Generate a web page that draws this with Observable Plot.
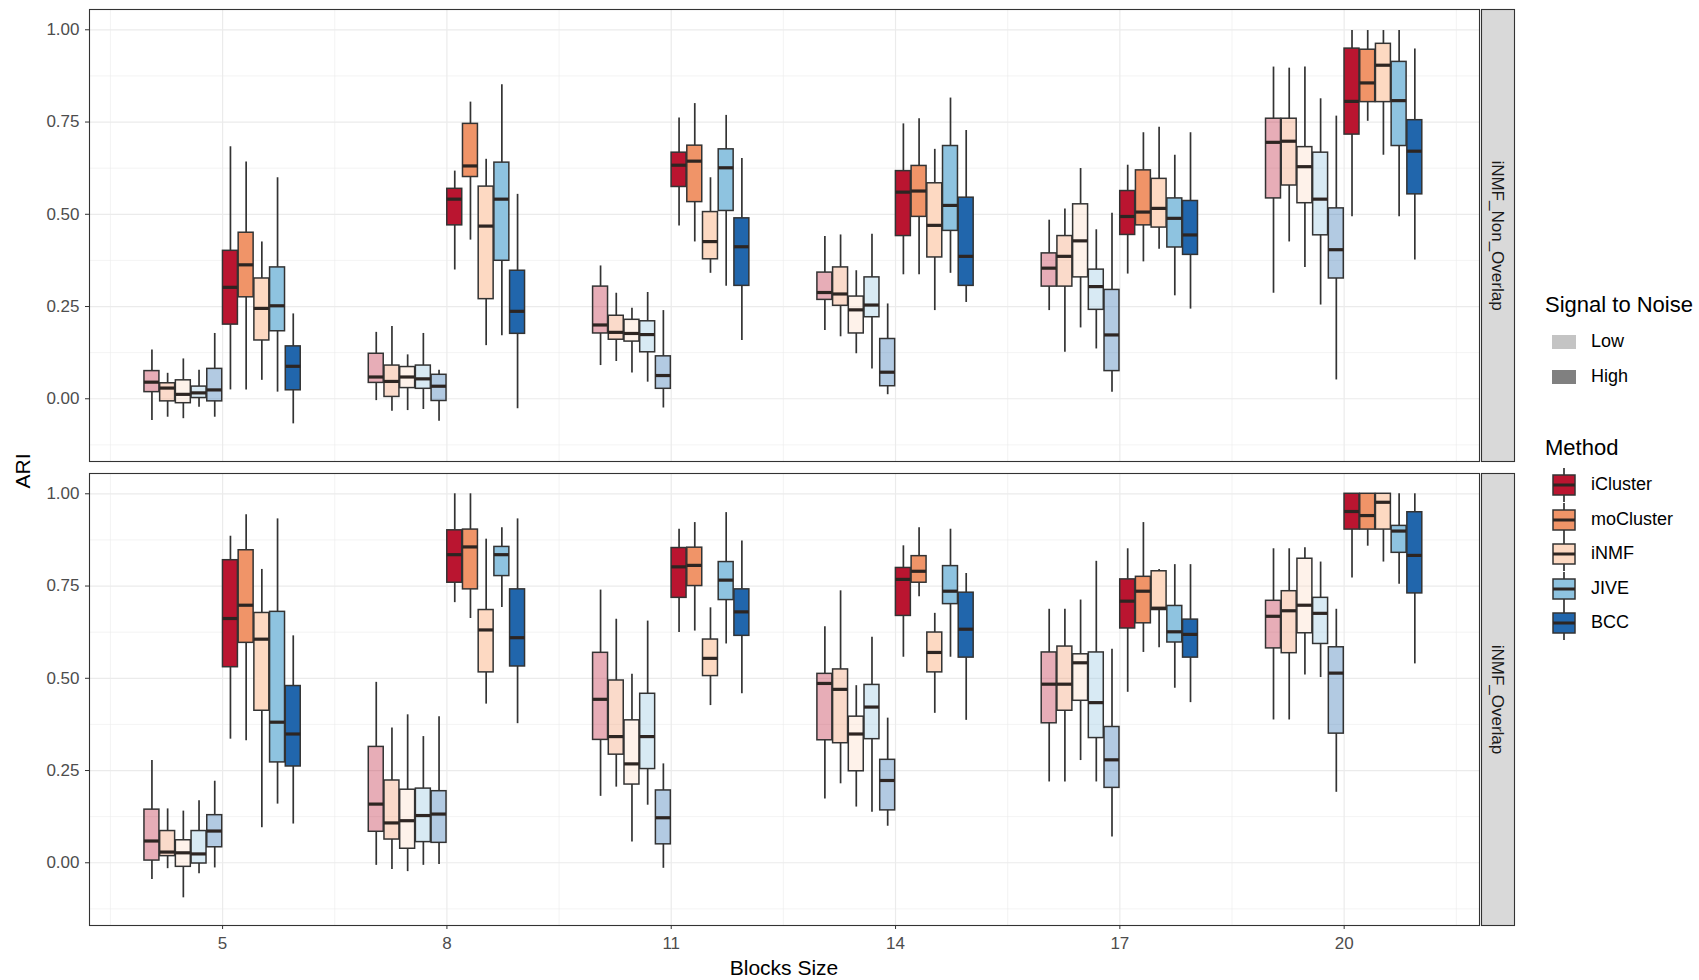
<!DOCTYPE html>
<html>
<head>
<meta charset="utf-8">
<script src="https://cdn.jsdelivr.net/npm/d3@7"></script>
<script src="https://cdn.jsdelivr.net/npm/@observablehq/plot@0.6"></script>
<style>
  body { margin: 0; background: #fff; font-family: "Liberation Sans", Arial, sans-serif; }
  #wrap { position: relative; width: 1699px; height: 980px; overflow: hidden; }
  #chart { position: absolute; left: 0; top: 0; }
  #legend { position: absolute; left: 0; top: 0; width: 1699px; height: 980px; pointer-events: none; }
  .ltitle { position: absolute; font-size: 22px; color: #000; white-space: nowrap; }
  .llabel { position: absolute; font-size: 18px; color: #000; white-space: nowrap; }
  .lkey { position: absolute; }
</style>
</head>
<body>
<div id="wrap"><div id="chart"></div><div id="legend"></div></div>
<script>
// ---- categories ----
const blockSizes = [5, 8, 11, 14, 17, 20];
const methods = ["iCluster", "moCluster", "iNMF", "JIVE", "BCC"];
const methodColors = ["#BA1530", "#F09468", "#FDD9C2", "#8EC3E0", "#2166AC"];
const snrLevels = ["Low", "High"];
const snrAlpha = [0.35, 1];
const snrKeyGrey = ["#C4C4C4", "#808080"];
const scenarios = ["iNMF_Non_Overlap", "iNMF_Overlap"];
const yMajor = [0, 0.25, 0.5, 0.75, 1];
const yMinor = [-0.125, 0.125, 0.375, 0.625, 0.875];
const xMinor = [3.5, 6.5, 9.5, 12.5, 15.5, 18.5, 21.5];

// ---- box statistics: per block size, per method: [lowerWhisker, Q1, median, Q3, upperWhisker] ----
const nonOverlapLow = [
  [[-0.059,0.018,0.045,0.075,0.132],[-0.05,-0.007,0.029,0.042,0.069],[-0.054,-0.012,0.012,0.05,0.108],[-0.023,0.002,0.016,0.033,0.077],[-0.05,-0.007,0.024,0.081,0.177]],
  [[-0.005,0.043,0.059,0.122,0.18],[-0.034,0.005,0.047,0.09,0.196],[-0.032,0.029,0.059,0.086,0.119],[-0.029,0.027,0.054,0.09,0.177],[-0.061,-0.006,0.034,0.065,0.077]],
  [[0.09,0.177,0.2,0.304,0.36],[0.101,0.16,0.18,0.225,0.286],[0.07,0.155,0.177,0.214,0.245],[0.045,0.126,0.174,0.21,0.288],[-0.025,0.027,0.063,0.115,0.239]],
  [[0.185,0.268,0.288,0.342,0.44],[0.168,0.252,0.284,0.356,0.444],[0.122,0.177,0.241,0.277,0.347],[0.081,0.221,0.254,0.329,0.446],[0.011,0.034,0.072,0.162,0.257]],
  [[0.239,0.304,0.354,0.394,0.484],[0.126,0.304,0.386,0.441,0.514],[0.192,0.329,0.428,0.527,0.624],[0.135,0.241,0.304,0.35,0.458],[0.018,0.075,0.173,0.295,0.503]],
  [[0.286,0.543,0.695,0.759,0.899],[0.425,0.578,0.698,0.759,0.896],[0.356,0.53,0.629,0.682,0.899],[0.254,0.443,0.541,0.667,0.813],[0.051,0.326,0.404,0.516,0.766]]
];
const nonOverlapHigh = [
  [[0.024,0.201,0.302,0.401,0.683],[0.024,0.275,0.363,0.45,0.642],[0.05,0.158,0.245,0.326,0.425],[0.018,0.183,0.252,0.356,0.599],[-0.068,0.023,0.088,0.142,0.23]],
  [[0.349,0.47,0.541,0.569,0.617],[0.43,0.601,0.631,0.745,0.804],[0.144,0.27,0.468,0.575,0.649],[0.171,0.374,0.541,0.64,0.851],[-0.027,0.176,0.237,0.347,0.554]],
  [[0.468,0.574,0.633,0.667,0.761],[0.425,0.533,0.644,0.686,0.8],[0.34,0.378,0.426,0.506,0.599],[0.305,0.509,0.626,0.676,0.768],[0.158,0.306,0.412,0.489,0.651]],
  [[0.336,0.441,0.56,0.617,0.745],[0.336,0.493,0.563,0.631,0.759],[0.239,0.383,0.47,0.584,0.676],[0.34,0.455,0.524,0.685,0.815],[0.261,0.306,0.386,0.545,0.727]],
  [[0.338,0.444,0.494,0.563,0.633],[0.371,0.47,0.506,0.619,0.721],[0.405,0.464,0.516,0.596,0.736],[0.279,0.41,0.489,0.543,0.66],[0.243,0.39,0.444,0.536,0.721]],
  [[0.493,0.716,0.806,0.949,0.998],[0.752,0.804,0.856,0.946,0.998],[0.66,0.804,0.904,0.962,0.998],[0.493,0.685,0.808,0.913,0.998],[0.376,0.554,0.671,0.755,0.948]]
];
const overlapLow = [
  [[-0.045,0.006,0.059,0.144,0.277],[-0.016,0.018,0.029,0.086,0.146],[-0.095,-0.011,0.027,0.061,0.14],[-0.03,-0.002,0.024,0.086,0.168],[-0.014,0.042,0.086,0.129,0.221]],
  [[-0.007,0.084,0.159,0.314,0.489],[-0.018,0.063,0.108,0.223,0.365],[-0.024,0.038,0.114,0.198,0.401],[-0.007,0.056,0.128,0.201,0.342],[-0.005,0.054,0.132,0.194,0.396]],
  [[0.18,0.333,0.443,0.569,0.739],[0.205,0.293,0.342,0.494,0.66],[0.056,0.212,0.268,0.386,0.511],[0.156,0.254,0.342,0.458,0.655],[-0.015,0.05,0.122,0.196,0.268]],
  [[0.173,0.332,0.486,0.512,0.64],[0.214,0.324,0.47,0.524,0.737],[0.151,0.248,0.349,0.396,0.48],[0.137,0.335,0.422,0.482,0.611],[0.099,0.142,0.223,0.279,0.392]],
  [[0.219,0.378,0.484,0.57,0.687],[0.219,0.412,0.484,0.586,0.687],[0.277,0.439,0.542,0.565,0.712],[0.219,0.338,0.434,0.57,0.817],[0.07,0.203,0.279,0.368,0.579]],
  [[0.387,0.581,0.668,0.71,0.851],[0.387,0.568,0.683,0.736,0.851],[0.509,0.622,0.698,0.824,0.854],[0.502,0.593,0.676,0.718,0.815],[0.191,0.35,0.514,0.584,0.687]]
];
const overlapHigh = [
  [[0.335,0.53,0.662,0.82,0.885],[0.331,0.596,0.698,0.847,0.943],[0.095,0.412,0.606,0.677,0.795],[0.159,0.272,0.381,0.68,0.932],[0.105,0.261,0.349,0.479,0.615]],
  [[0.705,0.759,0.835,0.901,1.0],[0.662,0.741,0.856,0.903,1.0],[0.43,0.516,0.631,0.685,0.877],[0.692,0.777,0.835,0.856,0.908],[0.377,0.532,0.61,0.741,0.932]],
  [[0.624,0.718,0.802,0.853,0.904],[0.628,0.75,0.806,0.854,0.922],[0.426,0.506,0.554,0.605,0.691],[0.593,0.712,0.766,0.815,0.949],[0.458,0.615,0.68,0.741,0.872]],
  [[0.557,0.669,0.768,0.799,0.859],[0.721,0.759,0.79,0.831,0.908],[0.405,0.516,0.57,0.624,0.676],[0.557,0.701,0.736,0.804,0.904],[0.386,0.556,0.633,0.732,0.784]],
  [[0.462,0.635,0.709,0.768,0.851],[0.57,0.649,0.736,0.775,0.922],[0.583,0.685,0.69,0.79,0.795],[0.473,0.597,0.626,0.696,0.808],[0.434,0.556,0.619,0.659,0.808]],
  [[0.772,0.903,0.952,1.0,1.0],[0.858,0.903,0.941,1.0,1.0],[0.815,0.903,0.977,1.0,1.0],[0.755,0.84,0.899,0.913,1.0],[0.539,0.73,0.833,0.95,1.0]]
];

// ---- build table ----
const statsBy = [[nonOverlapLow, nonOverlapHigh], [overlapLow, overlapHigh]];
const slotW = 0.21, halfBox = 0.1;
const rows = [];
scenarios.forEach((sc, si) => snrLevels.forEach((snr, ni) => {
  blockSizes.forEach((b, bi) => methods.forEach((m, mi) => {
    const [lo, q1, med, q3, hi] = statsBy[si][ni][bi][mi];
    const slot = ni * 5 + mi;
    rows.push({scenario: sc, block: b, method: m, snr, alpha: snrAlpha[ni],
               lo, q1, med, q3, hi, xc: b + (slot - 4.5) * slotW});
  }));
}));

const W = 1520, H = 980;
const ink = "#333333";
const chart = Plot.plot({
  width: W, height: H,
  marginLeft: 89, marginRight: 41, marginTop: 8, marginBottom: 54,
  facetMargin: 0,
  style: {fontFamily: "'Liberation Sans', Arial, sans-serif", fontSize: "17px", background: "#fff"},
  x: {domain: [3.22, 21.81]},
  y: {domain: [-0.17, 1.055]},
  fy: {domain: scenarios, paddingInner: 0.0258, paddingOuter: 0, axis: null},
  color: {domain: methods, range: methodColors},
  opacity: {type: "identity"},
  marks: [
    Plot.ruleY(yMinor, {stroke: "#EBEBEB", strokeWidth: 0.6}),
    Plot.ruleX(xMinor, {stroke: "#EBEBEB", strokeWidth: 0.6}),
    Plot.ruleY(yMajor, {stroke: "#EBEBEB", strokeWidth: 1.2}),
    Plot.ruleX(blockSizes, {stroke: "#EBEBEB", strokeWidth: 1.2}),
    Plot.ruleX(rows, {x: "xc", y1: "lo", y2: "q1", fy: "scenario", stroke: ink, strokeWidth: 1.7}),
    Plot.ruleX(rows, {x: "xc", y1: "q3", y2: "hi", fy: "scenario", stroke: ink, strokeWidth: 1.7}),
    Plot.rect(rows, {x1: d => d.xc - halfBox, x2: d => d.xc + halfBox, y1: "q1", y2: "q3", fy: "scenario",
                     fill: "method", fillOpacity: "alpha", stroke: ink, strokeWidth: 1.5}),
    Plot.ruleY(rows, {y: "med", x1: d => d.xc - halfBox, x2: d => d.xc + halfBox, fy: "scenario",
                      stroke: "#2d2522", strokeWidth: 3.2}),
    Plot.frame({stroke: ink, strokeWidth: 1.1}),
    Plot.frame({fill: "#D9D9D9", stroke: ink, strokeWidth: 1.1, insetLeft: 1392, insetRight: -35}),
    Plot.text(scenarios, {fy: d => d, text: d => d, frameAnchor: "right", textAnchor: "middle",
                          dx: 17.5, rotate: 90, fill: "#1A1A1A", fontSize: 17}),
    Plot.axisY({ticks: yMajor, tickFormat: d => d.toFixed(2), tickSize: 4, tickPadding: 6,
                label: null, stroke: ink, fill: "#4D4D4D", fontSize: 17}),
    Plot.axisX({ticks: blockSizes, tickFormat: d => String(d), tickSize: 4, tickPadding: 7,
                label: null, stroke: ink, fill: "#4D4D4D", fontSize: 17})
  ]
});
document.getElementById("chart").appendChild(chart);

// axis titles
const svg = d3.select(chart);
const xs = chart.scale("x");
svg.append("text").attr("x", (xs.range[0] + xs.range[1]) / 2).attr("y", 975)
  .attr("text-anchor", "middle").attr("font-size", 21).attr("fill", "#000").text("Blocks Size");
svg.append("text").attr("transform", "translate(30,471) rotate(-90)")
  .attr("text-anchor", "middle").attr("font-size", 21).attr("fill", "#000").text("ARI");

// ---- legend (right side) ----
const leg = document.getElementById("legend");
function addDiv(cls, left, top, html) {
  const d = document.createElement("div");
  d.className = cls; d.style.left = left + "px"; d.style.top = top + "px"; d.innerHTML = html;
  leg.appendChild(d); return d;
}
addDiv("ltitle", 1545, 292, "Signal to Noise");
snrLevels.forEach((s, i) => {
  const cy = 342 + i * 35;
  addDiv("lkey", 1551, cy - 11,
    `<svg width="26" height="22"><rect x="1" y="4" width="24" height="14" fill="${snrKeyGrey[i]}"/></svg>`);
  addDiv("llabel", 1591, cy - 11, s);
});
addDiv("ltitle", 1545, 435, "Method");
methods.forEach((m, i) => {
  const cy = 485 + i * 34.5;
  addDiv("lkey", 1551, cy - 17,
    `<svg width="26" height="34"><line x1="13" x2="13" y1="0" y2="34" stroke="${ink}" stroke-width="1.7"/>` +
    `<rect x="2" y="7" width="22" height="20" fill="${methodColors[i]}" stroke="${ink}" stroke-width="1.5"/>` +
    `<line x1="2" x2="24" y1="17" y2="17" stroke="#2d2522" stroke-width="3"/></svg>`);
  addDiv("llabel", 1591, cy - 11, m);
});
</script>
</body>
</html>
